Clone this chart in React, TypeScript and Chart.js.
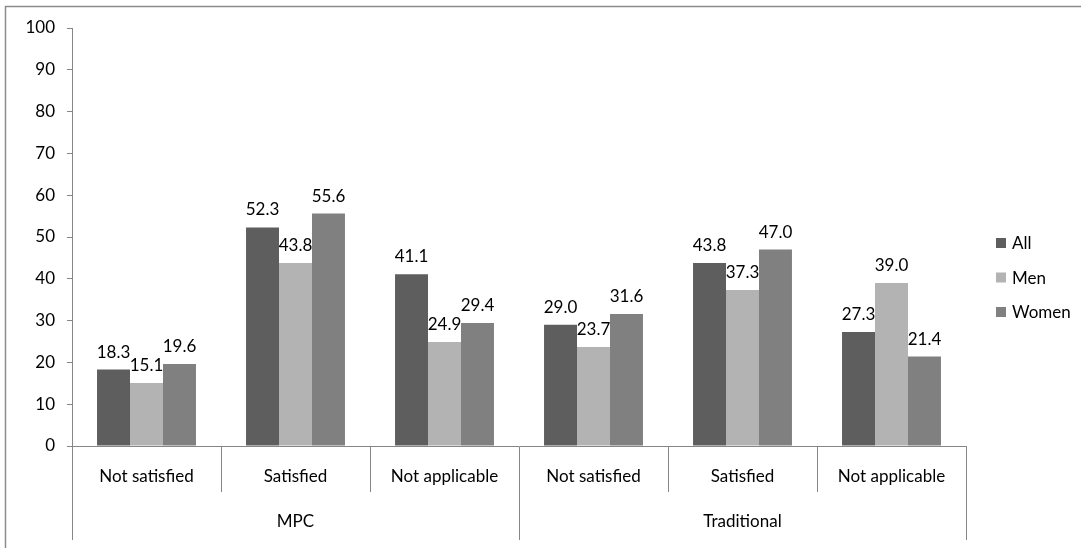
import React, { useEffect, useRef } from 'react';
import { Chart, registerables } from 'chart.js';

Chart.register(...registerables);

const groups = ['MPC', 'Traditional'];
const categories = ['Not satisfied', 'Satisfied', 'Not applicable', 'Not satisfied', 'Satisfied', 'Not applicable'];
const seriesNames = ['All', 'Men', 'Women'];
const allValues = [18.3, 52.3, 41.1, 29.0, 43.8, 27.3];
const menValues = [15.1, 43.8, 24.9, 23.7, 37.3, 39.0];
const womenValues = [19.6, 55.6, 29.4, 31.6, 47.0, 21.4];
const seriesColors = ['#5e5e5e', '#b3b3b3', '#808080'];
const yMin = 0;
const yMax = 100;
const yStep = 10;

const FONT = 'Lato, "Open Sans", sans-serif';
const FONT_SIZE = 17;
const AXIS = '#868686';
const TEXT = '#000000';

export default function App() {
  const ref = useRef<HTMLCanvasElement>(null);

  useEffect(() => {
    const canvas = ref.current!;

    const frame = {
      id: 'frame',
      beforeDraw(chart: any) {
        const ctx = chart.ctx;
        ctx.save();
        ctx.strokeStyle = '#8c8c8c';
        ctx.lineWidth = 1.5;
        ctx.beginPath();
        ctx.moveTo(5.5, chart.height);
        ctx.lineTo(5.5, 6.5);
        ctx.lineTo(chart.width, 6.5);
        ctx.stroke();
        ctx.restore();
      },
    };

    const valueLabels = {
      id: 'valueLabels',
      afterDatasetsDraw(chart: any) {
        const ctx = chart.ctx;
        ctx.save();
        ctx.font = `${FONT_SIZE}px ${FONT}`;
        ctx.fillStyle = TEXT;
        ctx.textAlign = 'center';
        ctx.textBaseline = 'alphabetic';
        chart.data.datasets.forEach((ds: any, i: number) => {
          const meta = chart.getDatasetMeta(i);
          meta.data.forEach((bar: any, j: number) => {
            ctx.fillText(Number(ds.data[j]).toFixed(1), bar.x, bar.y - 12);
          });
        });
        ctx.restore();
      },
    };

    const sideLegend = {
      id: 'sideLegend',
      afterDraw(chart: any) {
        const ctx = chart.ctx;
        const area = chart.chartArea;
        ctx.save();
        ctx.font = `${FONT_SIZE}px ${FONT}`;
        ctx.textAlign = 'left';
        ctx.textBaseline = 'middle';
        chart.data.datasets.forEach((ds: any, i: number) => {
          const y = area.top + 215 + i * 34.5;
          ctx.fillStyle = ds.backgroundColor;
          ctx.fillRect(area.right + 30, y - 5, 10, 10);
          ctx.fillStyle = TEXT;
          ctx.fillText(ds.label, area.right + 46, y + 1);
        });
        ctx.restore();
      },
    };

    const tickFont = { family: FONT, size: FONT_SIZE };

    const chart = new Chart(canvas, {
      type: 'bar',
      data: {
        labels: categories,
        datasets: [allValues, menValues, womenValues].map((vals, i) => ({
          label: seriesNames[i],
          data: vals,
          backgroundColor: seriesColors[i],
          borderWidth: 0,
          categoryPercentage: 0.664,
          barPercentage: 1,
        })),
      },
      options: {
        responsive: false,
        animation: false,
        layout: { padding: { top: 28, left: 0, right: 115, bottom: 8 } },
        plugins: { legend: { display: false }, tooltip: { enabled: false } },
        scales: {
          x: {
            type: 'category',
            position: 'bottom',
            weight: 0,
            offset: true,
            grid: { display: true, drawOnChartArea: false, offset: true, tickLength: 46, color: AXIS, lineWidth: 1 },
            border: { display: true, color: AXIS },
            ticks: { padding: -26, font: tickFont, color: TEXT, maxRotation: 0, autoSkip: false },
            afterFit: (s: any) => { s.height = 46; },
          },
          x2: {
            type: 'category',
            position: 'bottom',
            weight: 1,
            labels: groups,
            offset: true,
            grid: { display: true, drawOnChartArea: false, offset: true, tickLength: 48, color: AXIS, lineWidth: 1 },
            border: { display: false },
            ticks: { padding: -29, font: tickFont, color: TEXT, maxRotation: 0, autoSkip: false },
            afterFit: (s: any) => { s.height = 48; },
          },
          y: {
            min: yMin,
            max: yMax,
            ticks: { stepSize: yStep, padding: 12, font: tickFont, color: TEXT },
            grid: { display: true, drawOnChartArea: false, tickLength: 5, color: AXIS, lineWidth: 1 },
            border: { display: true, color: AXIS },
            afterFit: (s: any) => { s.width = 72; },
          },
        },
      } as any,
      plugins: [frame, valueLabels, sideLegend],
    });

    return () => chart.destroy();
  }, []);

  return (
    <div style={{ position: 'absolute', left: 0, top: 0, width: 1081, height: 548, background: '#ffffff' }}>
      <canvas ref={ref} width={1081} height={548} style={{ display: 'block' }} />
    </div>
  );
}
